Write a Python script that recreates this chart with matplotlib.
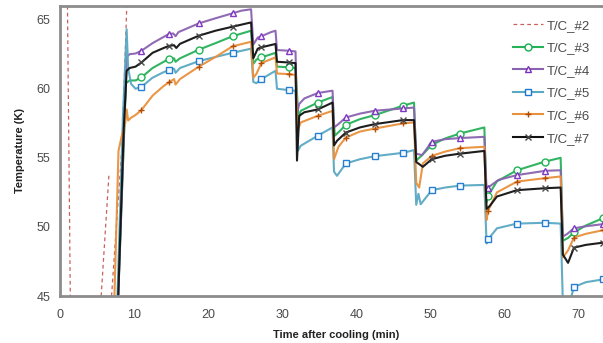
import numpy as np
import matplotlib
matplotlib.use('Agg')
import matplotlib.pyplot as plt
from matplotlib.lines import Line2D

plt.rcParams['font.family'] = ['Liberation Sans', 'DejaVu Sans']

#! read-off data (time in min, temperature in K)
nan = np.nan

t_tc2 = [1.0, 1.4, nan, 5.5, 6.6, nan, 6.9, 7.6, 8.4, 9.05]
T_tc2 = [66.5, 44.5, nan, 44.5, 53.7, nan, 44.5, 50.0, 56.0, 66.5]

t_tc3 = [7.8, 8.9, 9.4, 10.2, 11.0, 12.5, 14.0, 14.7, 15.4, 15.6, 16.2, 18.75, 21.0, 23.3, 25.8,
         26.1, 26.5, 27.2, 29.1, 29.3, 30.9, 31.8,
         32.2, 32.5, 34.8, 36.8,
         37.1, 37.7, 38.6, 40.5, 42.5, 46.3, 47.8,
         48.1, 48.9, 50.2, 52.0, 54.0, 57.3,
         57.6, 57.8, 59.0, 61.7, 65.5, 67.6,
         67.9, 68.6, 69.4, 71.0, 73.3, 75.0]
T_tc3 = [44.0, 60.4, 60.6, 60.6, 60.82, 61.5, 61.95, 62.15, 62.2, 61.95, 62.2, 62.83, 63.3, 63.8, 64.2,
         61.8, 62.1, 62.27, 62.6, 61.6, 61.55, 61.5,
         57.8, 58.4, 59.0, 59.4,
         56.6, 56.9, 57.39, 57.8, 58.09, 58.77, 59.0,
         54.8, 55.2, 55.94, 56.4, 56.76, 57.2,
         51.8, 52.25, 53.3, 54.1, 54.73, 55.0,
         49.0, 49.2, 49.6, 50.1, 50.63, 50.85]

t_tc4 = [7.8, 9.0, 9.4, 10.2, 11.0, 12.5, 14.0, 14.7, 15.3, 15.6, 16.0, 18.75, 21.0, 23.3, 24.5, 25.8,
         26.1, 26.7, 27.2, 28.5, 29.1, 29.3, 30.9, 31.8,
         32.0, 32.3, 33.0, 34.8, 36.8,
         37.0, 37.5, 38.6, 40.5, 42.5, 46.3, 47.8,
         48.1, 48.9, 50.2, 52.0, 54.0, 57.3,
         57.6, 57.8, 59.2, 61.7, 65.5, 67.6,
         67.9, 68.5, 69.4, 71.0, 73.3, 75.0]
T_tc4 = [44.0, 62.3, 62.5, 62.55, 62.75, 63.3, 63.75, 63.96, 64.0, 63.8, 64.1, 64.73, 65.1, 65.46, 65.65, 65.75,
         63.2, 63.7, 63.8, 64.1, 64.2, 62.8, 62.75, 62.7,
         58.2, 58.9, 59.3, 59.69, 59.86,
         57.2, 57.4, 57.92, 58.2, 58.41, 58.57, 58.64,
         55.3, 55.2, 56.16, 56.35, 56.43, 56.52,
         52.6, 52.85, 53.4, 53.75, 54.06, 54.1,
         49.3, 49.5, 49.9, 50.05, 50.2, 50.3]

t_tc5 = [7.7, 8.5, 9.0, 9.2, 9.6, 10.2, 11.0, 12.5, 14.0, 14.7, 15.4, 15.6, 16.2, 18.75, 21.0, 23.3, 25.8,
         26.1, 26.5, 27.2, 29.1, 29.3, 30.9, 31.8,
         32.1, 32.5, 34.8, 36.8,
         37.0, 37.4, 38.6, 40.5, 42.5, 46.3, 47.8,
         48.1, 48.4, 48.7, 50.2, 52.0, 54.0, 57.3,
         57.6, 57.8, 59.0, 61.7, 65.5, 67.6,
         67.9, 68.8, 69.4, 71.0, 73.3, 75.0]
T_tc5 = [44.0, 58.0, 64.3, 61.5, 60.35, 60.0, 60.14, 60.8, 61.2, 61.35, 61.45, 61.15, 61.5, 62.0, 62.3, 62.6, 62.9,
         60.5, 60.4, 60.7, 61.3, 60.0, 59.9, 59.85,
         55.5, 55.87, 56.6, 57.2,
         54.0, 53.7, 54.59, 54.9, 55.12, 55.36, 55.56,
         51.6, 52.4, 51.64, 52.66, 52.85, 52.99, 53.04,
         48.8, 49.1, 49.9, 50.24, 50.3, 50.24,
         44.5, 44.5, 45.65, 46.0, 46.2, 46.3]

t_tc6 = [7.3, 7.9, 8.3, 8.8, 9.0, 9.2, 9.6, 10.2, 11.0, 12.5, 14.0, 14.7, 15.4, 15.6, 16.2, 18.75, 21.0, 23.3, 25.8,
         26.1, 26.5, 27.2, 29.1, 29.3, 30.9, 31.8,
         32.1, 32.5, 34.8, 36.8,
         37.0, 37.6, 38.6, 40.5, 42.5, 46.3, 47.8,
         48.1, 48.5, 49.0, 50.2, 52.0, 54.0, 57.3,
         57.6, 57.8, 59.0, 61.7, 65.5, 67.6,
         67.9, 68.6, 69.4, 71.0, 73.3, 75.0]
T_tc6 = [44.0, 55.5, 56.5, 57.5, 58.5, 57.7, 57.9, 58.1, 58.46, 59.5, 60.2, 60.46, 60.7, 60.3, 60.7, 61.6, 62.3, 63.07, 63.4,
         60.8, 61.06, 61.86, 62.27, 61.1, 61.06, 61.0,
         57.0, 57.56, 58.04, 58.4,
         54.9, 55.8, 56.47, 56.9, 57.12, 57.49, 57.56,
         53.2, 52.85, 54.6, 55.14, 55.45, 55.7, 55.8,
         50.5, 51.16, 52.5, 53.28, 53.53, 53.65,
         47.8, 48.3, 49.23, 49.5, 49.76, 49.85]

t_tc7 = [7.8, 8.6, 9.0, 9.4, 10.2, 11.0, 12.5, 14.0, 14.7, 15.4, 15.7, 16.2, 18.75, 21.0, 23.3, 25.8,
         26.1, 26.7, 27.2, 29.1, 29.3, 30.9, 31.8,
         32.0, 32.3, 33.0, 34.8, 36.8,
         37.0, 37.4, 38.6, 40.5, 42.5, 46.3, 47.8,
         48.1, 49.0, 50.2, 52.0, 54.0, 57.3,
         57.6, 58.0, 59.0, 61.7, 65.5, 67.6,
         67.9, 68.6, 69.4, 71.0, 73.3, 75.0]
T_tc7 = [44.0, 57.0, 61.3, 61.5, 61.6, 61.9, 62.6, 62.95, 63.1, 63.15, 62.95, 63.25, 63.84, 64.2, 64.49, 64.8,
         62.2, 62.9, 63.0, 63.24, 61.95, 61.9, 61.85,
         54.8, 58.04, 58.3, 58.5, 59.0,
         55.9, 56.23, 56.83, 57.2, 57.44, 57.73, 57.73,
         54.7, 54.35, 54.9, 55.15, 55.3, 55.5,
         51.3, 51.5, 52.2, 52.66, 52.8, 52.85,
         48.0, 47.4, 48.5, 48.7, 48.86, 48.9]

marker_times = [11.0, 14.7, 18.75, 23.3, 27.2, 30.9, 34.8, 38.6, 42.5, 46.3,
                50.2, 54.0, 57.8, 61.7, 65.5, 69.4, 73.3]

labels = ['T/C_#2', 'T/C_#3', 'T/C_#4', 'T/C_#5', 'T/C_#6', 'T/C_#7']


# %%
#! plot

fig = plt.figure(figsize=(6.03, 3.43), dpi=100)
ax = fig.add_axes([0.0995, 0.137, 0.915, 0.846])  # left, bottom, width, height

txt_c = '#4a4a4a'

ax.plot(t_tc2, T_tc2, ls=(0, (3, 2.5)), lw=0.9, color='#c8605c')

series = [
    # t, T, line colour, marker, marker colour, marker face
    (t_tc3, T_tc3, '#27b05a', 'o', '#14b04c', 'white'),
    (t_tc4, T_tc4, '#8a63b0', '^', '#7b2fc0', 'white'),
    (t_tc5, T_tc5, '#5aa8c2', 's', '#1a78d0', 'white'),
    (t_tc6, T_tc6, '#e8903c', '+', '#b04800', 'none'),
    (t_tc7, T_tc7, '#111111', 'x', '#444444', 'none'),
]

handles = [Line2D([], [], ls=(0, (3, 2.5)), lw=0.9, color='#c8605c')]
for t, T, lc, mk, mc, mf in series:
    t = np.array(t)
    mk_idx = list(np.where(np.isin(t, marker_times))[0])
    ax.plot(t, T, color=lc, lw=1.5, alpha=0.95, marker=mk, markevery=mk_idx,
            ms=5, mec=mc, mfc=mf, mew=1.0)
    handles.append(Line2D([], [], color=lc, lw=1.5, marker=mk, ms=5, mec=mc, mfc=mf, mew=1.0))

ax.set_xlim(0, 74.5)
ax.set_ylim(45, 66)
ax.set_xticks(np.arange(0, 80, 10))
ax.set_yticks([45, 50, 55, 60, 65])
ax.tick_params(length=0, labelsize=9, labelcolor=txt_c)
ax.tick_params(axis='x', pad=9)
ax.tick_params(axis='y', pad=7)

for s in ['left', 'bottom', 'top']:
    ax.spines[s].set_color('#8c8c8c')
    ax.spines[s].set_linewidth(2)
ax.spines['right'].set_visible(False)

ax.set_xlabel('Time after cooling (min)', fontsize=8, fontweight='bold', color='#222', labelpad=7)
ax.set_ylabel('Temperature (K)', fontsize=8, fontweight='bold', color='#222', labelpad=8)

ax.legend(handles, labels, loc='upper right', bbox_to_anchor=(0.982, 0.993), frameon=False,
          fontsize=9.5, labelspacing=0.78, handlelength=2.3, handletextpad=0.25, labelcolor=txt_c)

plt.savefig('out.png', dpi=100)
